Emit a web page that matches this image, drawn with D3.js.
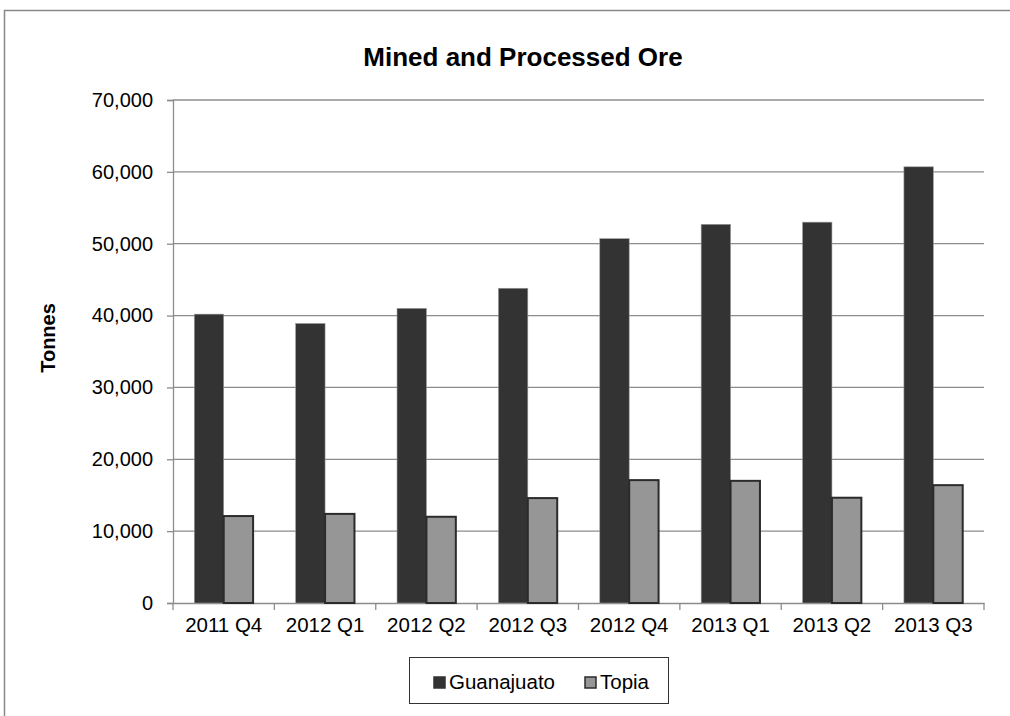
<!DOCTYPE html>
<html><head><meta charset="utf-8">
<script src="https://cdn.jsdelivr.net/npm/d3@7"></script>
<style>body{margin:0;background:#fff}svg{display:block}text{font-family:"Liberation Sans",Arial,sans-serif}</style>
</head><body>
<script>
const categories = ["2011 Q4","2012 Q1","2012 Q2","2012 Q3","2012 Q4","2013 Q1","2013 Q2","2013 Q3"];
const guanajuato = [40200, 38900, 41000, 43800, 50700, 52700, 53000, 60700];
const topia = [12100, 12400, 12000, 14600, 17100, 17000, 14650, 16400];
const seriesNames = ["Guanajuato","Topia"];
const yTicks = [0,10000,20000,30000,40000,50000,60000,70000];

const W=1010,H=716;
const svg=d3.select("body").append("svg").attr("width",W).attr("height",H);
svg.append("rect").attr("x",4.5).attr("y",10.5).attr("width",1030).attr("height",730)
  .attr("fill","#fff").attr("stroke","#888").attr("stroke-width",1.5);

const L=173,R=984,T=100,B=603;
const x=d3.scaleBand().domain(categories).range([L,R]);
const y=d3.scaleLinear().domain([0,70000]).range([B,T]);
const fmt=d3.format(",");

// gridlines
svg.append("g").selectAll("line").data(yTicks.slice(1)).join("line")
  .attr("x1",L).attr("x2",R).attr("y1",d=>y(d)).attr("y2",d=>y(d))
  .attr("stroke","#8c8c8c").attr("stroke-width",1.3);

// y axis
const ya=svg.append("g").attr("transform",`translate(${L},0)`)
  .call(d3.axisLeft(y).tickValues(yTicks).tickFormat(fmt).tickSize(6).tickPadding(14));
ya.select(".domain").attr("stroke","#8c8c8c").attr("stroke-width",1.3);
ya.selectAll(".tick line").attr("stroke","#8c8c8c").attr("stroke-width",1.3);
ya.selectAll("text").attr("font-size",20).attr("fill","#000");

// x axis
const xa=svg.append("g").attr("transform",`translate(0,${B})`)
  .call(d3.axisBottom(x).tickSize(0).tickPadding(14));
xa.select(".domain").attr("stroke","#8c8c8c").attr("stroke-width",1.3);
xa.selectAll("text").attr("font-size",20.5).attr("fill","#000");
svg.append("g").selectAll("line").data(d3.range(categories.length+1)).join("line")
  .attr("x1",i=>L+i*x.step()).attr("x2",i=>L+i*x.step()).attr("y1",B).attr("y2",B+7)
  .attr("stroke","#8c8c8c").attr("stroke-width",1.3);

// bars
const bw=x.bandwidth()*0.29;
const data=categories.map((c,i)=>({c,g:guanajuato[i],t:topia[i]}));
const grp=svg.append("g");
grp.selectAll(".g").data(data).join("rect")
  .attr("x",d=>x(d.c)+x.bandwidth()/2-bw).attr("width",bw)
  .attr("y",d=>y(d.g)).attr("height",d=>B-y(d.g))
  .attr("fill","#333333").attr("stroke","#9a9a9a").attr("stroke-width",0.6);
grp.selectAll(".t").data(data).join("rect")
  .attr("x",d=>x(d.c)+x.bandwidth()/2).attr("width",bw)
  .attr("y",d=>y(d.t)).attr("height",d=>B-y(d.t))
  .attr("fill","#969696").attr("stroke","#2b2b2b").attr("stroke-width",2);

// title
svg.append("text").attr("x",523).attr("y",66).attr("text-anchor","middle")
  .attr("font-size",26).attr("font-weight","bold").text("Mined and Processed Ore");
// y label
svg.append("text").attr("transform","translate(55,338) rotate(-90)").attr("text-anchor","middle")
  .attr("font-size",20).attr("font-weight","bold").text("Tonnes");

// legend
svg.append("rect").attr("x",409.5).attr("y",657.5).attr("width",259).attr("height",46)
  .attr("fill","#fff").attr("stroke","#333").attr("stroke-width",1);
const lg=[{n:seriesNames[0],x:434,f:"#333333",s:"#333"},{n:seriesNames[1],x:585,f:"#969696",s:"#2b2b2b"}];
lg.forEach(d=>{
  svg.append("rect").attr("x",d.x).attr("y",677).attr("width",11).attr("height",11)
    .attr("fill",d.f).attr("stroke",d.s).attr("stroke-width",1.5);
  svg.append("text").attr("x",d.x+15).attr("y",689).attr("font-size",20.5).text(d.n);
});
</script>
</body></html>
